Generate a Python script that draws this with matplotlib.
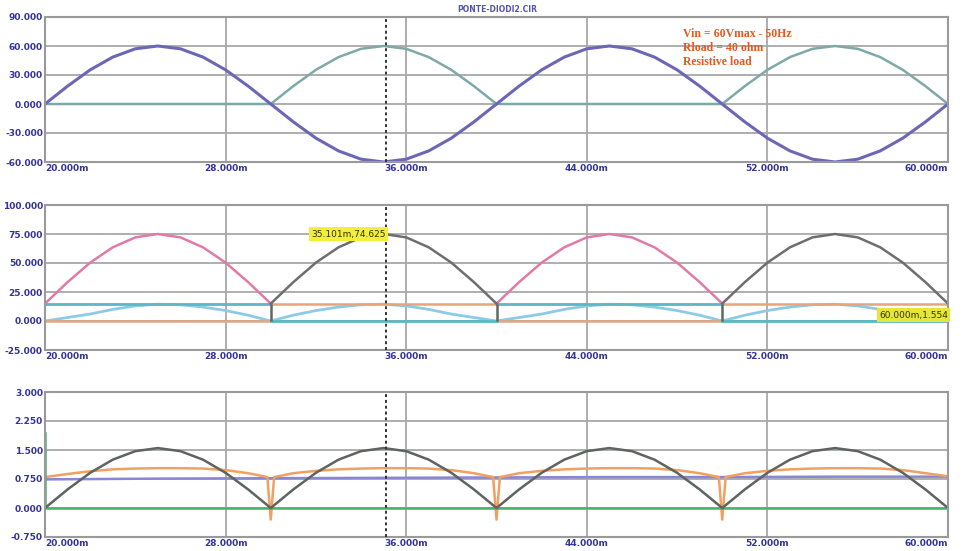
import numpy as np
from matplotlib import pyplot as plt

# time axis in ms, 1 ms steps
t_ms = list(range(20, 61))

# top panel: input sine and inverted negative half
vin = [0, 18.5, 35.3, 48.5, 57.1, 60, 57.1, 48.5, 35.3, 18.5,
       0, -18.5, -35.3, -48.5, -57.1, -60, -57.1, -48.5, -35.3, -18.5,
       0, 18.5, 35.3, 48.5, 57.1, 60, 57.1, 48.5, 35.3, 18.5,
       0, -18.5, -35.3, -48.5, -57.1, -60, -57.1, -48.5, -35.3, -18.5, 0]
vneg = [0, 0, 0, 0, 0, 0, 0, 0, 0, 0,
        0, 18.5, 35.3, 48.5, 57.1, 60, 57.1, 48.5, 35.3, 18.5,
        0, 0, 0, 0, 0, 0, 0, 0, 0, 0,
        0, 18.5, 35.3, 48.5, 57.1, 60, 57.1, 48.5, 35.3, 18.5, 0]

nan = np.nan
# middle panel
mid_pink = [15, 33.5, 50.3, 63.5, 72.1, 75, 72.1, 63.5, 50.3, 33.5,
            15, nan, nan, nan, nan, nan, nan, nan, nan, nan,
            15, 33.5, 50.3, 63.5, 72.1, 75, 72.1, 63.5, 50.3, 33.5,
            15, nan, nan, nan, nan, nan, nan, nan, nan, nan, nan]
mid_gray = [nan, nan, nan, nan, nan, nan, nan, nan, nan, nan,
            15, 33.5, 50.3, 63.5, 72.1, 75, 72.1, 63.5, 50.3, 33.5,
            15, nan, nan, nan, nan, nan, nan, nan, nan, nan,
            15, 33.5, 50.3, 63.5, 72.1, 75, 72.1, 63.5, 50.3, 33.5, 15]
mid_bump = [0, 3, 6, 10, 13, 14.5, 14, 12, 9, 5,
            0, 5, 9, 12, 14, 14.5, 13, 10, 6, 3,
            0, 3, 6, 10, 13, 14.5, 14, 12, 9, 5,
            0, 5, 9, 12, 14, 14.5, 13, 10, 6, 3, 0]
step_t = [20, 30, nan, 30, 40, nan, 40, 50, nan, 50, 60]
step_teal = [15, 15, nan, 0, 0, nan, 15, 15, nan, 0, 0]
step_orange = [0, 0, nan, 15, 15, nan, 0, 0, nan, 15, 15]
switch_t = [30, 40, 50]
switch_lo = [0, 0, 0]
switch_hi = [15, 15, 15]

# bottom panel
bot_gray = [0, 0.48, 0.91, 1.25, 1.47, 1.55, 1.47, 1.25, 0.91, 0.48,
            0, 0.48, 0.91, 1.25, 1.47, 1.55, 1.47, 1.25, 0.91, 0.48,
            0, 0.48, 0.91, 1.25, 1.47, 1.55, 1.47, 1.25, 0.91, 0.48,
            0, 0.48, 0.91, 1.25, 1.47, 1.55, 1.47, 1.25, 0.91, 0.48, 0]
orange_t = [20, 21, 22, 23, 24, 25, 26, 27, 28, 29, 29.85, 30, 30.15,
            31, 32, 33, 34, 35, 36, 37, 38, 39, 39.85, 40, 40.15,
            41, 42, 43, 44, 45, 46, 47, 48, 49, 49.85, 50, 50.15,
            51, 52, 53, 54, 55, 56, 57, 58, 59, 60]
orange_v = [0.8, 0.88, 0.95, 1.0, 1.02, 1.03, 1.03, 1.02, 0.98, 0.9, 0.8, -0.3, 0.8,
            0.9, 0.96, 1.0, 1.02, 1.03, 1.03, 1.02, 0.98, 0.9, 0.8, -0.3, 0.8,
            0.9, 0.96, 1.0, 1.02, 1.03, 1.03, 1.02, 0.98, 0.9, 0.8, -0.3, 0.8,
            0.9, 0.96, 1.0, 1.02, 1.03, 1.03, 1.02, 0.98, 0.9, 0.82]
purple_t = [20, 25, 30, 35, 40, 45, 50, 55, 60]
purple_v = [0.74, 0.76, 0.77, 0.78, 0.79, 0.8, 0.8, 0.81, 0.81]
green_t = [20, 20, 60]
green_v = [1.95, 0, 0]

cursor_t = 35.101
x_ticks = [20, 28, 36, 44, 52, 60]
top_yticks = [-60, -30, 0, 30, 60, 90]
mid_yticks = [-25, 0, 25, 50, 75, 100]
bot_yticks = [-0.75, 0, 0.75, 1.5, 2.25, 3.0]

TICK_COLOR = "#34349a"
GRID = "#a8a8a8"

fig = plt.figure(figsize=(9.64, 5.51), dpi=100)
W, H = 964, 551


def make_ax(top_px, bot_px, yticks):
    ax = fig.add_axes([45 / W, 1 - bot_px / H, 903 / W, (bot_px - top_px) / H])
    ax.set_xlim(20, 60)
    ax.set_ylim(yticks[0], yticks[-1])
    ax.set_xticks(x_ticks)
    ax.set_yticks(yticks)
    ax.set_yticklabels([f"{v:.3f}" for v in yticks])
    ax.set_xticklabels([f"{v:.3f}m" for v in x_ticks])
    ax.grid(True, color=GRID, lw=1.3)
    ax.tick_params(length=0, pad=1.5, labelsize=6.5, labelcolor=TICK_COLOR)
    for lab in ax.get_xticklabels() + ax.get_yticklabels():
        lab.set_fontweight("bold")
    ax.get_xticklabels()[0].set_ha("left")
    ax.get_xticklabels()[-1].set_ha("right")
    for s in ax.spines.values():
        s.set_color("#9a9a9a")
        s.set_linewidth(1.5)
    ax.axvline(cursor_t, color="#333333", ls=(0, (1.5, 1.5)), lw=1.4, zorder=5)
    return ax


ax1 = make_ax(17, 162, top_yticks)
ax2 = make_ax(205, 350, mid_yticks)
ax3 = make_ax(392, 537, bot_yticks)

# top
ax1.plot(t_ms, vneg, color="#7fa9a9", lw=1.8)
ax1.plot(t_ms, vin, color="#6b67b5", lw=2.2)
fig.text(497 / W, 1 - 9 / H, "PONTE-DIODI2.CIR", color="#5555aa",
         fontsize=5.5, ha="center", va="center", fontweight="bold")
for i, line in enumerate(["Vin = 60Vmax - 50Hz", "Rload = 40 ohm", "Resistive load"]):
    fig.text(683 / W, 1 - (34 + 14 * i) / H, line, color="#e8581e",
             fontsize=8.5, fontweight="bold", family="Liberation Serif",
             va="center", ha="left")

# middle
ax2.plot(t_ms, mid_bump, color="#8ccbe6", lw=2.0)
ax2.plot(step_t, step_orange, color="#e9a47a", lw=1.8)
ax2.plot(step_t, step_teal, color="#5bb8c4", lw=2.0)
ax2.plot(t_ms, mid_pink, color="#e07aa8", lw=1.8)
ax2.plot(t_ms, mid_gray, color="#6e6e6e", lw=1.8)
ax2.vlines(switch_t, switch_lo, switch_hi, color="#5a6a60", lw=1.8)
ax2.text(cursor_t, 75, "35.101m,74.625", fontsize=6.5, ha="right", va="center",
         color="#333300", zorder=6,
         bbox=dict(boxstyle="square,pad=0.25", fc="#f2ef3a", ec="none"))
ax2.text(60, 5, "60.000m,1.554", fontsize=6.5, ha="right", va="center",
         color="#333300", zorder=6,
         bbox=dict(boxstyle="square,pad=0.25", fc="#e6e63a", ec="none"))

# bottom
ax3.plot(purple_t, purple_v, color="#8a86d6", lw=1.8)
ax3.plot(orange_t, orange_v, color="#f0a060", lw=1.8)
ax3.plot(green_t, green_v, color="#45b46a", lw=1.8)
ax3.plot(t_ms, bot_gray, color="#5e6460", lw=1.8)

fig.savefig("out.png", dpi=100, facecolor="white")
